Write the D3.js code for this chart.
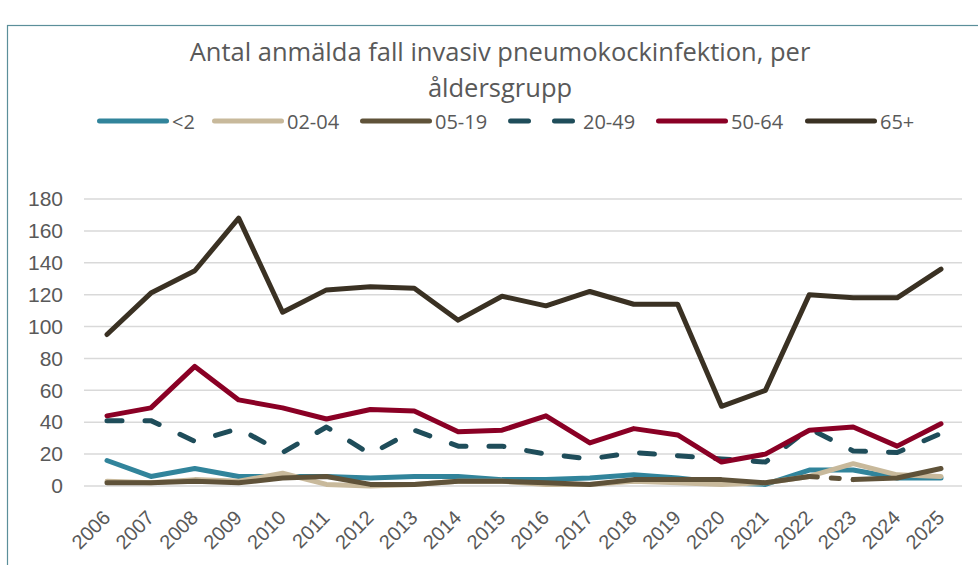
<!DOCTYPE html>
<html>
<head>
<meta charset="utf-8">
<script src="https://cdn.jsdelivr.net/npm/d3@7"></script>
<style>
  body { margin: 0; background: #fff; }
  svg { display: block; font-family: "Open Sans", sans-serif; }
</style>
</head>
<body>
<div id="chart"></div>
<script>
var years = ["2006","2007","2008","2009","2010","2011","2012","2013","2014","2015","2016","2017","2018","2019","2020","2021","2022","2023","2024","2025"];
var under2   = [16, 6, 11, 6, 6, 6, 5, 6, 6, 4, 4, 5, 7, 5, 2, 1, 10, 10, 5, 5];
var age02_04 = [3, 2, 4, 3, 8, 1, 0, 1, 3, 3, 1, 1, 3, 2, 1, 2, 6, 14, 7, 6];
var age05_19 = [2, 2, 3, 2, 5, 6, 1, 1, 3, 3, 2, 1, 4, 4, 4, 2, 6, 4, 5, 11];
var age20_49 = [41, 41, 28, 36, 21, 37, 20, 35, 25, 25, 20, 17, 21, 19, 17, 15, 36, 22, 21, 33];
var age50_64 = [44, 49, 75, 54, 49, 42, 48, 47, 34, 35, 44, 27, 36, 32, 15, 20, 35, 37, 25, 39];
var age65    = [95, 121, 135, 168, 109, 123, 125, 124, 104, 119, 113, 122, 114, 114, 50, 60, 120, 118, 118, 136];
var yTicks = [0, 20, 40, 60, 80, 100, 120, 140, 160, 180];

// the 05-19 line is dashed between these two years in the original
var dashedFrom = "2022", dashedTo = "2023";

var series = [
  {name: "<2",    values: under2,   color: "#31849b", dash: null},
  {name: "02-04", values: age02_04, color: "#c8b99b", dash: null},
  {name: "05-19", values: age05_19, color: "#5f5239", dash: null, gap: true},
  {name: "20-49", values: age20_49, color: "#1f4d5a", dash: "15,23"},
  {name: "50-64", values: age50_64, color: "#8a0025", dash: null},
  {name: "65+",   values: age65,    color: "#3a3123", dash: null}
];

var W = 978, H = 565;

var svg = d3.select("#chart").append("svg")
  .attr("width", W)
  .attr("height", H);

// frame
svg.append("rect")
  .attr("x", 7.5).attr("y", 25.5)
  .attr("width", W).attr("height", H)
  .attr("fill", "none")
  .attr("stroke", "#5b8f9a")
  .attr("stroke-width", 1.2);

svg.append("text")
  .attr("x", 500).attr("y", 61)
  .attr("text-anchor", "middle")
  .attr("font-size", 25.5).attr("fill", "#595959")
  .text("Antal anmälda fall invasiv pneumokockinfektion, per");
svg.append("text")
  .attr("x", 500).attr("y", 97)
  .attr("text-anchor", "middle")
  .attr("font-size", 25.5).attr("fill", "#595959")
  .text("åldersgrupp");

var x = d3.scalePoint().domain(years).range([107, 941]);
var y = d3.scaleLinear().domain([0, 180]).range([486, 199]);

// grid
svg.append("g")
  .selectAll("line")
  .data(yTicks)
  .join("line")
  .attr("x1", 84).attr("x2", 962)
  .attr("y1", d => y(d)).attr("y2", d => y(d))
  .attr("stroke", "#d9d9d9").attr("stroke-width", 1.5);

// y axis labels
var yAxis = svg.append("g")
  .attr("transform", "translate(63,0)")
  .call(d3.axisLeft(y).tickValues(yTicks).tickSize(0).tickPadding(0));
yAxis.select(".domain").remove();
yAxis.selectAll("text").attr("font-size", 21).attr("fill", "#595959").attr("font-family", null);

// x axis labels
var xAxis = svg.append("g")
  .attr("transform", "translate(0,486)")
  .call(d3.axisBottom(x).tickSize(0));
xAxis.select(".domain").remove();
xAxis.selectAll("text")
  .attr("font-size", 20).attr("fill", "#595959").attr("font-family", null)
  .style("text-anchor", "end")
  .attr("x", 0).attr("y", 0).attr("dy", 0)
  .attr("transform", "translate(4,33) rotate(-45)");

var line = d3.line()
  .x(d => x(d.year))
  .y(d => y(d.value));

function addPath(pts, color, dash) {
  svg.append("path")
    .datum(pts)
    .attr("fill", "none")
    .attr("stroke", color)
    .attr("stroke-width", 5)
    .attr("stroke-linejoin", "round")
    .attr("stroke-linecap", "round")
    .attr("stroke-dasharray", dash)
    .attr("d", line);
}

series.forEach(function(s) {
  var pts = s.values.map((v, i) => ({year: years[i], value: v}));
  if (s.gap) {
    var a = years.indexOf(dashedFrom), b = years.indexOf(dashedTo);
    addPath(pts.slice(0, a + 1), s.color, null);
    addPath(pts.slice(a, b + 1), s.color, "8,14");
    addPath(pts.slice(b), s.color, null);
  } else {
    addPath(pts, s.color, s.dash);
  }
});

// legend
var legendX = [97, 212, 360, 508, 656, 805];
var legend = svg.append("g");
series.forEach(function(s, i) {
  var g = legend.append("g").attr("transform", "translate(" + legendX[i] + ",121)");
  g.append("line")
    .attr("x1", 2.5).attr("x2", 69.5)
    .attr("stroke", s.color).attr("stroke-width", 5)
    .attr("stroke-linecap", "round")
    .attr("stroke-dasharray", s.dash ? "18,26" : null);
  g.append("text")
    .attr("x", 75).attr("y", 7.5)
    .attr("font-size", 20).attr("fill", "#595959")
    .text(s.name);
});
</script>
</body>
</html>
